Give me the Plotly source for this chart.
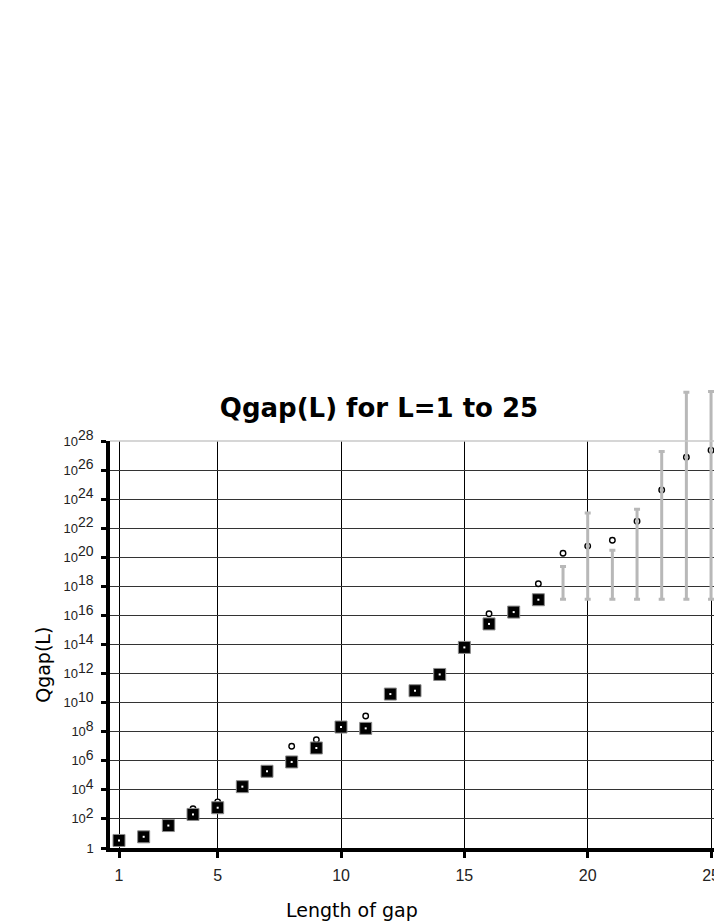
import plotly.graph_objects as go

# Qgap(L) data
gap_len = list(range(1, 19))
qgap = [3.3, 5.9, 35, 204, 590, 1.66e4, 1.9e5, 8.3e5, 7.6e6, 2.1e8, 1.7e8,
        3.9e10, 6.6e10, 8.7e11, 6.3e13, 2.6e15, 1.7e16, 1.2e17]

# small open circles
est_len = [4, 5, 8, 9, 11, 16, 18, 19, 20, 21, 22, 23, 24, 25]
qgap_est = [500, 1500, 1.0e7, 2.8e7, 1.2e9, 1.3e16, 1.5e18, 1.9e20, 5.9e20,
            1.5e21, 3.0e22, 4.3e24, 7.6e26, 2.3e27]

# grey range bars for L = 19..25
range_len = [19, 20, 21, 22, 23, 24, 25]
range_low = [1.3e17, 1.3e17, 1.3e17, 1.3e17, 1.3e17, 1.3e17, 1.3e17]
range_high = [2.3e19, 1.1e23, 3.0e20, 2.0e23, 1.9e27, 2.3e31, 2.5e31]

x_ticks = [1, 5, 10, 15, 20, 25]
y_exps = list(range(0, 29, 2))

COLOR_GRID = "#333333"
COLOR_BAR = "#b8b8b8"
FONT = "DejaVu Sans"
TICK_FONT = "Liberation Sans"

W, H = 714, 924
M_L, M_T, M_B = 110, 385, 76      # outer plot box (the bars may go up to its top)
AXIS_TOP = 441                    # where 10^28 sits
plot_h = H - M_T - M_B
y_dom = (H - M_B - AXIS_TOP) / plot_h
Y_MAX = 28

y_tickvals = [10.0 ** e for e in y_exps]
y_ticktext = ["1" if e == 0 else
              '10<sup><span style="font-size:14px">%d</span></sup>' % e
              for e in y_exps]

fig = go.Figure()

# range bars live on a hidden taller axis with the same scale so they are not cut
fig.add_trace(go.Scatter(
    x=range_len, y=range_low, mode="markers", xaxis="x2", yaxis="y2",
    marker=dict(size=1, color="rgba(0,0,0,0)"),
    error_y=dict(type="data", symmetric=False,
                 array=[h - l for h, l in zip(range_high, range_low)],
                 arrayminus=[0] * len(range_low),
                 color=COLOR_BAR, thickness=3, width=3)))

fig.add_trace(go.Scatter(
    x=est_len, y=qgap_est, mode="markers", cliponaxis=False,
    marker=dict(symbol="circle", size=5.5, color="white",
                line=dict(color="black", width=1.4))))

fig.add_trace(go.Scatter(
    x=gap_len, y=qgap, mode="markers", cliponaxis=False,
    marker=dict(symbol="square", size=12, color="black",
                line=dict(color="#8a8a8a", width=1))))

# the little white dot in each square
fig.add_trace(go.Scatter(
    x=gap_len, y=qgap, mode="markers", cliponaxis=False,
    marker=dict(symbol="square", size=2, color="white")))

X_RANGE = [0.635, 25.12]
fig.update_layout(
    xaxis=dict(range=X_RANGE, tickmode="array", tickvals=x_ticks,
               ticks="outside", ticklen=6, tickwidth=3, tickcolor="black",
               showline=True, linewidth=3.5, linecolor="black",
               showgrid=True, gridcolor="black", gridwidth=1,
               zeroline=False, ticklabelstandoff=4, automargin=False,
               ticklabeloverflow="allow",
               tickfont=dict(family=TICK_FONT, size=16, color="#222")),
    yaxis=dict(type="log", range=[0, Y_MAX], domain=[0, y_dom],
               tickmode="array", tickvals=y_tickvals, ticktext=y_ticktext,
               ticks="outside", ticklen=5, tickwidth=3, tickcolor="black",
               showline=True, linewidth=3.5, linecolor="black",
               showgrid=True, gridcolor=COLOR_GRID, gridwidth=1,
               zeroline=False, automargin=False, ticklabelstandoff=5,
               tickfont=dict(family=TICK_FONT, size=13, color="#222")),
    xaxis2=dict(range=X_RANGE, anchor="y2", visible=False, showgrid=False,
                matches="x"),
    yaxis2=dict(type="log", range=[0, Y_MAX / y_dom], domain=[0, 1],
                anchor="x2", visible=False, showgrid=False))

# light top border of the plot area
fig.add_shape(type="line", xref="x domain", yref="y domain",
              x0=0, x1=1, y0=1, y1=1,
              line=dict(color="#c8c8c8", width=1.5), layer="above")

fig.add_annotation(text="Qgap(L)", xref="paper", yref="paper",
                   x=-0.111, y=0.45 * y_dom, textangle=-90, showarrow=False,
                   xanchor="center", yanchor="middle",
                   font=dict(family=FONT, size=19, color="black"))
fig.add_annotation(text="Length of gap", xref="paper", yref="paper",
                   x=0.40, y=-0.152 * y_dom, showarrow=False,
                   xanchor="center", yanchor="middle",
                   font=dict(family=FONT, size=19, color="black"))

fig.update_layout(
    title=dict(text="<b>Qgap(L) for L=1 to 25</b>", x=379 / W,
               xanchor="center", y=1 - 408 / H, yanchor="middle",
               font=dict(family=FONT, size=26, color="black")),
    width=W, height=H, autosize=False, showlegend=False,
    margin=dict(l=M_L, r=0, t=M_T, b=M_B, pad=0),
    # transparent so the second (taller) subplot does not hide the first
    paper_bgcolor="white", plot_bgcolor="rgba(0,0,0,0)")

# drop the page's default 8px body margin so the figure fills the window
fig.write_html("out.html", config={"displayModeBar": False},
               post_script="document.body.style.margin='0';"
                           "document.body.style.overflow='hidden';")
